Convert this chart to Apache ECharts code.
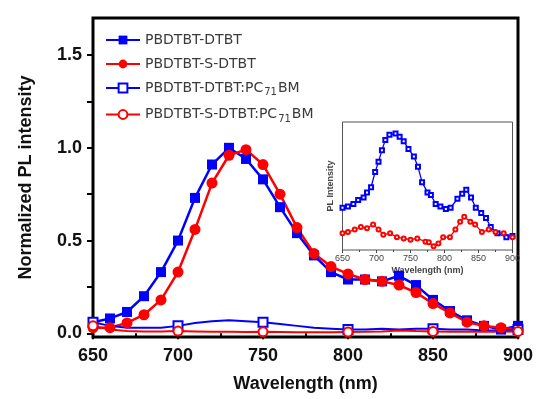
<!DOCTYPE html>
<html>
<head>
<meta charset="utf-8">
<script src="https://cdn.jsdelivr.net/npm/echarts@6/dist/echarts.min.js"></script>
<style>
  html, body { margin: 0; padding: 0; background: #fff; }
  #chart { width: 539px; height: 399px; }
</style>
</head>
<body>
<div id="chart"></div>
<script>
// main spectra, sampled every 10 nm
const wavelengths = [650, 660, 670, 680, 690, 700, 710, 720, 730, 740, 750, 760, 770,
  780, 790, 800, 810, 820, 830, 840, 850, 860, 870, 880, 890, 900];
const pbdtbtDtbt = [0.06, 0.08, 0.115, 0.20, 0.33, 0.50, 0.73, 0.91, 1.00, 0.94, 0.83, 0.68, 0.54,
  0.42, 0.33, 0.29, 0.29, 0.28, 0.31, 0.26, 0.18, 0.12, 0.07, 0.04, 0.02, 0.04];
const pbdtbtSDtbt = [0.03, 0.03, 0.056, 0.10, 0.18, 0.33, 0.56, 0.81, 0.96, 0.99, 0.91, 0.75, 0.57,
  0.43, 0.36, 0.32, 0.29, 0.28, 0.26, 0.22, 0.16, 0.11, 0.06, 0.04, 0.03, 0.02];
const dtbtBlend = [0.06, 0.04, 0.03, 0.03, 0.03, 0.04, 0.055, 0.065, 0.07, 0.065, 0.06, 0.05, 0.04,
  0.03, 0.025, 0.02, 0.02, 0.025, 0.02, 0.025, 0.025, 0.02, 0.02, 0.015, 0.015, 0.02];
const sDtbtBlend = [0.04, 0.02, 0.012, 0.01, 0.01, 0.012, 0.01, 0.008, 0.008, 0.007, 0.008, 0.007, 0.006,
  0.006, 0.006, 0.007, 0.008, 0.01, 0.015, 0.012, 0.01, 0.008, 0.008, 0.008, 0.008, 0.01];

// inset: blend spectra (arbitrary units)
const insetBlueX = [650, 658, 666, 673, 681, 686, 692, 698, 703, 708, 713, 719, 728, 734, 740, 747,
  755, 761, 767, 775, 780, 787, 794, 802, 809, 819, 826, 832, 839, 846, 854, 861, 868, 878, 891, 900];
const insetBlueY = [0.33, 0.34, 0.36, 0.39, 0.41, 0.45, 0.49, 0.61, 0.69, 0.78, 0.86, 0.90, 0.91, 0.885, 0.85, 0.79,
  0.73, 0.65, 0.53, 0.45, 0.43, 0.36, 0.34, 0.32, 0.33, 0.40, 0.44, 0.47, 0.41, 0.33, 0.29, 0.25, 0.18, 0.13, 0.10, 0.11];
const insetRedX = [650, 658, 668, 677, 686, 695, 703, 710, 720, 730, 740, 750, 760, 772, 777, 784,
  791, 798, 808, 816, 823, 829, 838, 845, 855, 865, 875, 887, 900];
const insetRedY = [0.13, 0.14, 0.16, 0.18, 0.17, 0.20, 0.16, 0.12, 0.13, 0.10, 0.09, 0.08, 0.09, 0.065, 0.06, 0.03,
  0.05, 0.10, 0.10, 0.16, 0.22, 0.26, 0.22, 0.20, 0.14, 0.16, 0.14, 0.13, 0.10];

const yLabelValues = [0, 0.5, 1, 1.5];
const yTickValues = [0, 0.25, 0.5, 0.75, 1, 1.25, 1.5];

const BLUE = '#0000ff';
const RED = '#ff0000';

const pairs = (xs, ys) => xs.map((x, i) => [x, ys[i]]);
// blends only carry a marker every 50 nm
const sparseMarks = (xs, ys) => xs.map((x, i) =>
  x % 50 === 0 ? [x, ys[i]] : { value: [x, ys[i]], symbol: 'none' });

const chart = echarts.init(document.getElementById('chart'), null, { renderer: 'canvas' });

const tickFont = { fontFamily: 'Liberation Sans, Arial', fontWeight: 'bold', fontSize: 18, color: '#111' };

const option = {
  animation: false,
  backgroundColor: '#fff',
  legend: {
    data: ['PBDTBT-DTBT', 'PBDTBT-S-DTBT', 'PBDTBT-DTBT:PC71BM', 'PBDTBT-S-DTBT:PC71BM'],
    orient: 'vertical',
    left: 100,
    top: 28,
    itemGap: 10,
    itemWidth: 34,
    itemHeight: 11,
    formatter: (n) => n.replace('PC71', 'PC{sub|71}'),
    textStyle: {
      fontFamily: 'DejaVu Sans',
      fontSize: 14,
      color: '#3a3a3a',
      rich: {
        sub: { fontFamily: 'DejaVu Sans', fontSize: 10, color: '#3a3a3a', padding: [9, 1, 0, 1] },
      },
    },
  },
  grid: [
    {
      left: 93, right: 21, top: 18, bottom: 62,
      show: true, borderColor: '#000', borderWidth: 3,
    },
    {
      left: 342.5, top: 122, width: 170, height: 128,
      show: true, borderColor: '#555', borderWidth: 1, backgroundColor: '#fff',
    },
  ],
  xAxis: [
    {
      gridIndex: 0,
      type: 'value',
      min: 650, max: 900, interval: 50,
      name: 'Wavelength (nm)',
      nameLocation: 'middle',
      nameGap: 38,
      nameTextStyle: { fontFamily: 'Liberation Sans, Arial', fontWeight: 'bold', fontSize: 18, color: '#111' },
      axisLine: { show: false },
      axisTick: { show: true, length: 6, lineStyle: { color: '#000', width: 2 } },
      minorTick: { show: true, splitNumber: 2, length: 4, lineStyle: { color: '#000', width: 2 } },
      axisLabel: { ...tickFont, margin: 10 },
      splitLine: { show: false },
    },
    {
      gridIndex: 1,
      type: 'value',
      min: 650, max: 900, interval: 50,
      name: 'Wavelength (nm)',
      nameLocation: 'middle',
      nameGap: 16,
      nameTextStyle: { fontFamily: 'Liberation Sans, Arial', fontWeight: 'bold', fontSize: 9, color: '#444' },
      axisLine: { show: false },
      axisTick: { show: true, length: 3, lineStyle: { color: '#444', width: 1 } },
      minorTick: { show: true, splitNumber: 2, length: 2, lineStyle: { color: '#444', width: 1 } },
      axisLabel: { fontFamily: 'Liberation Sans, Arial', fontSize: 9, color: '#444', margin: 4 },
      splitLine: { show: false },
    },
  ],
  yAxis: [
    {
      gridIndex: 0,
      type: 'value',
      min: -0.02, max: 1.7,
      name: 'Normalized PL intensity',
      nameLocation: 'middle',
      nameGap: 58,
      nameTextStyle: { fontFamily: 'Liberation Sans, Arial', fontWeight: 'bold', fontSize: 18, color: '#111' },
      axisLine: { show: false },
      axisTick: { show: true, length: 6, customValues: yTickValues, lineStyle: { color: '#000', width: 2 } },
      axisLabel: { ...tickFont, margin: 11, customValues: yLabelValues, formatter: (v) => v.toFixed(1) },
      splitLine: { show: false },
    },
    {
      gridIndex: 1,
      type: 'value',
      min: 0, max: 1,
      name: 'PL Intensity',
      nameLocation: 'middle',
      nameGap: 7,
      nameTextStyle: { fontFamily: 'Liberation Sans, Arial', fontWeight: 'bold', fontSize: 9, color: '#444' },
      axisLine: { show: false },
      axisTick: { show: false },
      axisLabel: { show: false },
      splitLine: { show: false },
    },
  ],
  series: [
    {
      name: 'PBDTBT-DTBT',
      type: 'line',
      data: pairs(wavelengths, pbdtbtDtbt),
      symbol: 'rect',
      symbolSize: 10,
      lineStyle: { color: BLUE, width: 2.5 },
      itemStyle: { color: BLUE },
    },
    {
      name: 'PBDTBT-S-DTBT',
      type: 'line',
      data: pairs(wavelengths, pbdtbtSDtbt),
      symbol: 'circle',
      symbolSize: 11,
      lineStyle: { color: RED, width: 2.5 },
      itemStyle: { color: RED },
    },
    {
      name: 'PBDTBT-DTBT:PC71BM',
      type: 'line',
      data: sparseMarks(wavelengths, dtbtBlend),
      symbol: 'emptyRect',
      symbolSize: 9,
      lineStyle: { color: BLUE, width: 2 },
      itemStyle: { color: BLUE, borderWidth: 1.5 },
    },
    {
      name: 'PBDTBT-S-DTBT:PC71BM',
      type: 'line',
      data: sparseMarks(wavelengths, sDtbtBlend),
      symbol: 'emptyCircle',
      symbolSize: 9,
      lineStyle: { color: RED, width: 2 },
      itemStyle: { color: RED, borderWidth: 1.5 },
    },
    {
      name: 'inset DTBT blend',
      type: 'line',
      xAxisIndex: 1,
      yAxisIndex: 1,
      data: pairs(insetBlueX, insetBlueY),
      symbol: 'emptyRect',
      symbolSize: 4,
      lineStyle: { color: BLUE, width: 1.3 },
      itemStyle: { color: BLUE, borderWidth: 1 },
    },
    {
      name: 'inset S-DTBT blend',
      type: 'line',
      xAxisIndex: 1,
      yAxisIndex: 1,
      data: pairs(insetRedX, insetRedY),
      symbol: 'emptyCircle',
      symbolSize: 4,
      lineStyle: { color: RED, width: 1.3 },
      itemStyle: { color: RED, borderWidth: 1 },
    },
  ],
};

chart.setOption(option);
</script>
</body>
</html>
